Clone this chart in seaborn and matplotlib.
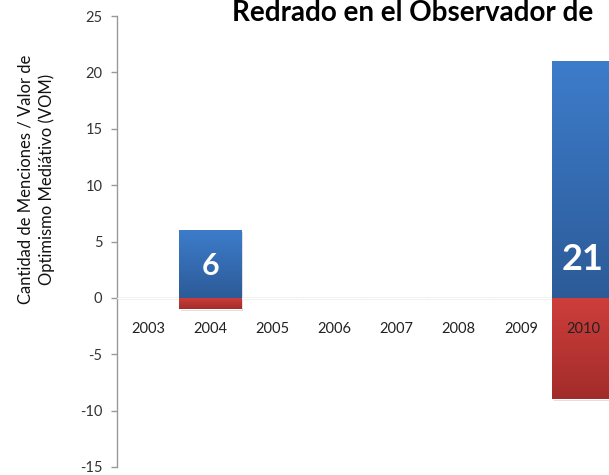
import numpy as np
import pandas as pd
import matplotlib
matplotlib.use('Agg')
import matplotlib.pyplot as plt
import seaborn as sns
from matplotlib import transforms
from matplotlib.colors import to_rgb

years = ['2003', '2004', '2005', '2006', '2007', '2008', '2009', '2010']
menciones = [0, 6, 0, 0, 0, 0, 0, 21]
vom = [0, -1, 0, 0, 0, 0, 0, -9]
bar_labels = ['', '6', '', '', '', '', '', '21']
yticks = [-15, -10, -5, 0, 5, 10, 15, 20, 25]
title = 'Redrado en el Observador de'
ylabel = 'Cantidad de Menciones / Valor de\nOptimismo Mediátivo (VOM)'

sns.set_theme(style='white')
plt.rcParams['font.family'] = ['Lato', 'DejaVu Sans']
plt.rcParams['axes.unicode_minus'] = False

fig = plt.figure(figsize=(6.09, 4.75), dpi=100)
ax = fig.add_axes([117/609, 1-467/475, (614-117)/609, (467-16)/475])

df = pd.DataFrame({'year': years, 'pos': menciones, 'neg': vom})
sns.barplot(data=df, x='year', y='pos', order=years, color='#3A76C4', width=1.0,
            saturation=1, ax=ax, zorder=3, errorbar=None)
sns.barplot(data=df, x='year', y='neg', order=years, color='#C23835', width=1.0,
            saturation=1, ax=ax, zorder=3, errorbar=None)

grad = {'pos': ('#3D7CCB', '#2C5B98'), 'neg': ('#CE3E3B', '#A22C2A')}
for p in list(ax.patches):
    h = p.get_height()
    if h == 0:
        continue
    x0 = p.get_x(); w = p.get_width()
    y0, y1 = sorted([p.get_y(), p.get_y() + h])
    top, bot = grad['pos'] if h > 0 else grad['neg']
    t = np.linspace(0, 1, 100)[:, None]
    c = (1 - t) * np.array(to_rgb(top)) + t * np.array(to_rgb(bot))
    img = c[:, None, :]
    ax.add_patch(plt.Rectangle((x0, y0), w, y1 - y0, transform=ax.transData +
                 transforms.ScaledTranslation(2/100, -2/100, fig.dpi_scale_trans),
                 facecolor='#000000', alpha=0.15, edgecolor='none', zorder=2.5))
    im = ax.imshow(img, extent=[x0, x0 + w, y0, y1], aspect='auto', origin='upper', zorder=3.5)
    im.set_clip_path(p)

ax.set_xlim(-0.5, 7.5)
ax.set_ylim(-15, 25)

for i, lab in enumerate(bar_labels):
    if lab:
        size = 22 if len(lab) == 1 else 26
        off = 32 if len(lab) == 1 else 38
        ax.text(i, 0, lab, ha='center', va='center', color='white', fontweight='bold',
                fontsize=size, zorder=6,
                transform=ax.transData + transforms.ScaledTranslation(0, off/100, fig.dpi_scale_trans))

for i, yr in enumerate(years):
    ax.text(i, 0, yr, ha='center', va='center', color='#222222', fontsize=10.5, zorder=6,
            transform=ax.transData + transforms.ScaledTranslation(0, -31/100, fig.dpi_scale_trans))

ax.axhline(0, color='#999999', lw=1, zorder=1)
for s in ['top', 'right', 'bottom']:
    ax.spines[s].set_visible(False)
ax.spines['left'].set_color('#999999')
ax.spines['left'].set_linewidth(1)
ax.set_xticks([])
ax.set_yticks(yticks)
ax.tick_params(axis='y', direction='out', length=4.5, color='#999999', width=1,
               labelsize=10.5, labelcolor='#333333', pad=6, left=True)
ax.set_xlabel('')
ax.set_ylabel('')

fig.text(36/609, 1-179/475, ylabel, rotation=90, ha='center', va='center',
         fontsize=12, color='#111111', linespacing=1.35)
fig.text(232/609, 1-21/475, title, ha='left', va='baseline', fontsize=20,
         fontweight='bold', color='black')

fig.savefig('out.png', dpi=100)
